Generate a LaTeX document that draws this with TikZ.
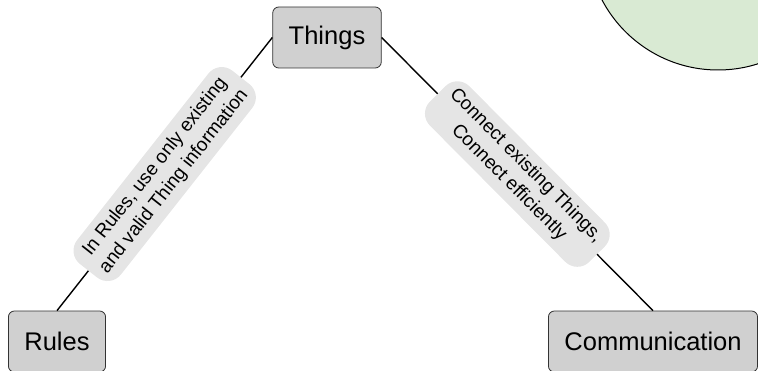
\documentclass[tikz,border=0pt]{standalone}
\usepackage{fontspec}
\setmainfont{Liberation Sans}
\definecolor{boxgray}{RGB}{208,208,208}
\definecolor{tagfill}{RGB}{229,229,229}
\definecolor{ideagreen}{RGB}{217,234,211}
\tikzset{
  topic/.style={draw=black!80, fill=boxgray, rounded corners=6pt, line width=0.8pt,
    minimum height=61pt, inner xsep=16pt,
    font=\fontsize{25.5}{30}\selectfont},
  link/.style={line width=1.4pt},
  tag/.style={fill=tagfill, rounded corners=17pt, inner xsep=9pt, inner ysep=7pt,
    align=center, sloped, midway,
    font=\fontsize{19}{24}\selectfont}
}
\begin{document}
\begin{tikzpicture}[x=1pt,y=1pt]
  \useasboundingbox (0,0) rectangle (758,370);
  \clip (0,0) rectangle (758,370);
  % background idea bubble in the corner
  \node[circle, draw=black, line width=1pt, fill=ideagreen, minimum size=262pt, inner sep=0pt] (idea) at (718,431) {};
  % the three topics
  \node[topic] (things) at (327,332.5) {Things};
  \node[topic] (rules) at (57,28.5) {Rules};
  \node[topic] (comm) at (653,28.5) {Communication};
  % labelled connections
  \draw[link] (rules.north) -- (things.west)
    node[tag] (tagrules) {In Rules, use only existing\\and valid Thing information};
  \draw[link] (things.east) -- (comm.north)
    node[tag] (tagcomm) {Connect existing Things,\\Connect efficiently};
\end{tikzpicture}
\end{document}
